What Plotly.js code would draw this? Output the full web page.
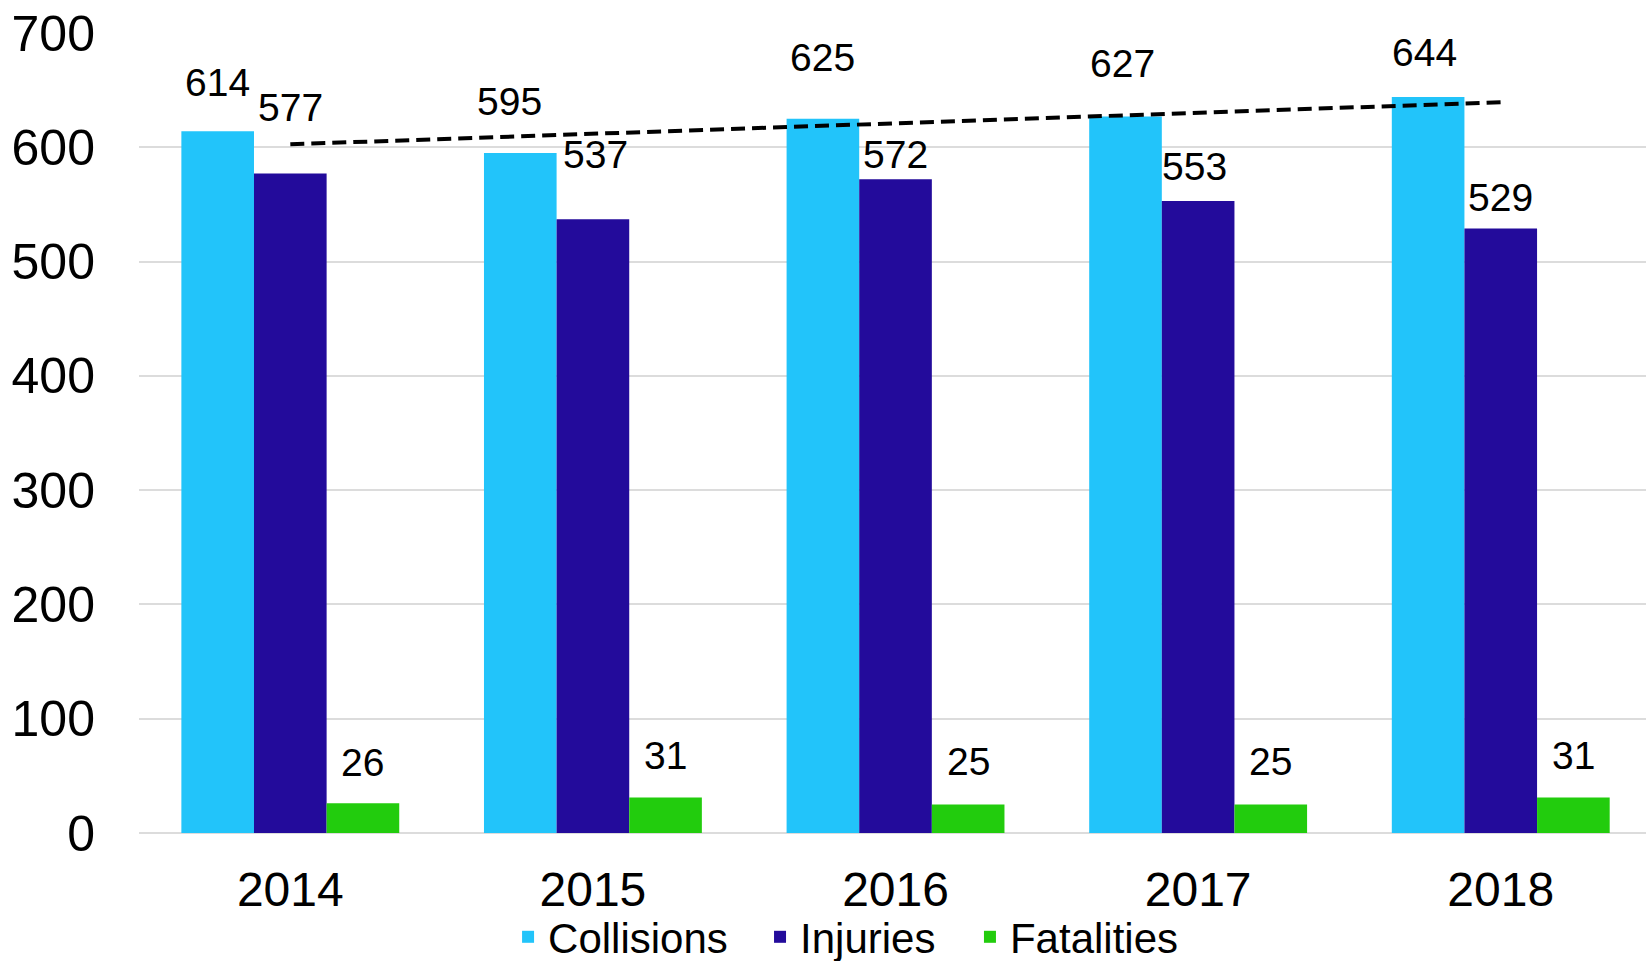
<!DOCTYPE html>
<html>
<head>
<meta charset="utf-8">
<script src="https://cdn.plot.ly/plotly-3.0.1.min.js"></script>
<style>html,body{margin:0;padding:0;background:#fff;}#chart{width:1646px;height:961px;}</style>
</head>
<body>
<div id="chart"></div>
<script>
// ---- data ----
const years = ['2014', '2015', '2016', '2017', '2018'];
const collisions = [614, 595, 625, 627, 644];
const injuries = [577, 537, 572, 553, 529];
const fatalities = [26, 31, 25, 25, 31];
const seriesNames = ['Collisions', 'Injuries', 'Fatalities'];
const yTicks = [0, 100, 200, 300, 400, 500, 600, 700];

// ---- styling (kept separate from data) ----
const colors = ['#22C4FA', '#230B9B', '#22CC0D'];
const labelLift = [
  [49, 52, 61, 53, 45],
  [66, 65, 25, 35, 31],
  [41, 42, 43, 43, 42]
];
const labelNudgeX = [
  [0, -11, 0, -3, -4],
  [0, 3, 0, -4, 0],
  [0, 0, 0, 0, 0]
];
const legendX = [0.2449, 0.4121, 0.5514];
const legendIds = ['legend', 'legend2', 'legend3'];
const FONT = 'Liberation Sans, Arial, sans-serif';

const series = [collisions, injuries, fatalities];
const traces = series.map((vals, j) => ({
  type: 'bar', name: seriesNames[j], x: years, y: vals,
  marker: {color: colors[j], line: {width: 0}},
  legend: legendIds[j],
  hoverinfo: 'x+y+name'
}));

// linear trend of collisions (least squares from the data)
const n = collisions.length;
const xs = collisions.map((_, i) => i);
const mx = xs.reduce((a, b) => a + b, 0) / n;
const my = collisions.reduce((a, b) => a + b, 0) / n;
let sxy = 0, sxx = 0;
xs.forEach((x, i) => { sxy += (x - mx) * (collisions[i] - my); sxx += (x - mx) * (x - mx); });
const slope = sxy / sxx;
const trendY = [my + slope * (0 - mx), my + slope * (n - 1 - mx)];
traces.push({
  type: 'scatter', mode: 'lines', x: [years[0], years[n - 1]], y: trendY,
  line: {color: '#000', width: 4, dash: '14px,7px'},
  showlegend: false, hoverinfo: 'skip'
});

const barW = 0.24;
const annotations = [];
series.forEach((vals, j) => {
  vals.forEach((v, i) => {
    annotations.push({
      x: i + (j - 1) * barW, y: v, xref: 'x', yref: 'y',
      text: String(v), showarrow: false,
      yanchor: 'middle', xanchor: 'center',
      yshift: labelLift[j][i], xshift: labelNudgeX[j][i],
      font: {family: FONT, size: 39, color: '#000'}
    });
  });
});

const layout = {
  width: 1646, height: 961,
  margin: {l: 139, r: 0, t: 33, b: 128, autoexpand: false},
  paper_bgcolor: '#fff', plot_bgcolor: '#fff',
  barmode: 'group', bargap: 0.28, bargroupgap: 0,
  font: {family: FONT, color: '#000'},
  xaxis: {
    type: 'category', range: [-0.5, 4.48],
    tickfont: {size: 48, family: FONT, color: '#000'},
    ticks: 'outside', ticklen: 14, tickcolor: 'rgba(0,0,0,0)',
    showgrid: false, showline: false, zeroline: false
  },
  yaxis: {
    range: [0, 700], tickvals: yTicks, ticktext: yTicks.map(String),
    tickfont: {size: 50, family: FONT, color: '#000'},
    ticks: 'outside', ticklen: 33, tickcolor: 'rgba(0,0,0,0)',
    showgrid: true, gridcolor: '#dcdcdc', gridwidth: 2,
    zeroline: true, zerolinecolor: '#dcdcdc', zerolinewidth: 2,
    showline: false
  },
  annotations: annotations,
  showlegend: true
};
legendIds.forEach((id, j) => {
  layout[id] = {
    orientation: 'h', x: legendX[j], xanchor: 'left', y: -0.13, yanchor: 'middle',
    font: {size: 42, family: FONT, color: '#000'},
    itemwidth: 30, bgcolor: 'rgba(0,0,0,0)', borderwidth: 0
  };
});

Plotly.newPlot('chart', traces, layout, {displayModeBar: false, staticPlot: true});
</script>
</body>
</html>
